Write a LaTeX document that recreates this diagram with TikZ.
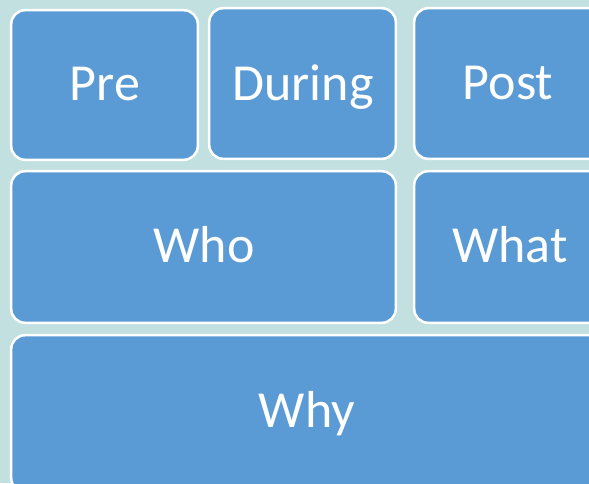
\documentclass[tikz,border=0pt]{standalone}
\usepackage{fontspec}
\setmainfont{Carlito}
\definecolor{bgc}{HTML}{C2E0E0}
\definecolor{boxc}{HTML}{5B9BD5}
\begin{document}
\begin{tikzpicture}[x=1pt,y=-1pt,
  cell/.style={draw=white, line width=2.5pt, fill=boxc, rounded corners=14pt},
  lbl/.style={text=white, font=\fontsize{52}{60}\selectfont, inner sep=0pt, anchor=base}]
\fill[bgc] (0,0) rectangle (589,483);
\useasboundingbox (0,0) rectangle (589,483);
\draw[cell] (11.2,10.2) rectangle (197.8,159.8);
\draw[cell] (209.2,8.2) rectangle (395.8,158.8);
\draw[cell] (414.2,8.2) rectangle (605,158.8);
\draw[cell] (11.2,171.2) rectangle (395.8,322.8);
\draw[cell] (414.2,171.2) rectangle (607,322.8);
\draw[cell] (11.2,335.2) rectangle (605,492);
\node[lbl] (pre) at (105,100.5) {Pre};
\node[lbl] (during) at (303,100) {During};
\node[lbl] (post) at (508,99.5) {Post};
\node[lbl] (who) at (204,262) {Who};
\node[lbl] (what) at (510,262) {What};
\node[lbl] (why) at (307,427) {Why};
\end{tikzpicture}
\end{document}
